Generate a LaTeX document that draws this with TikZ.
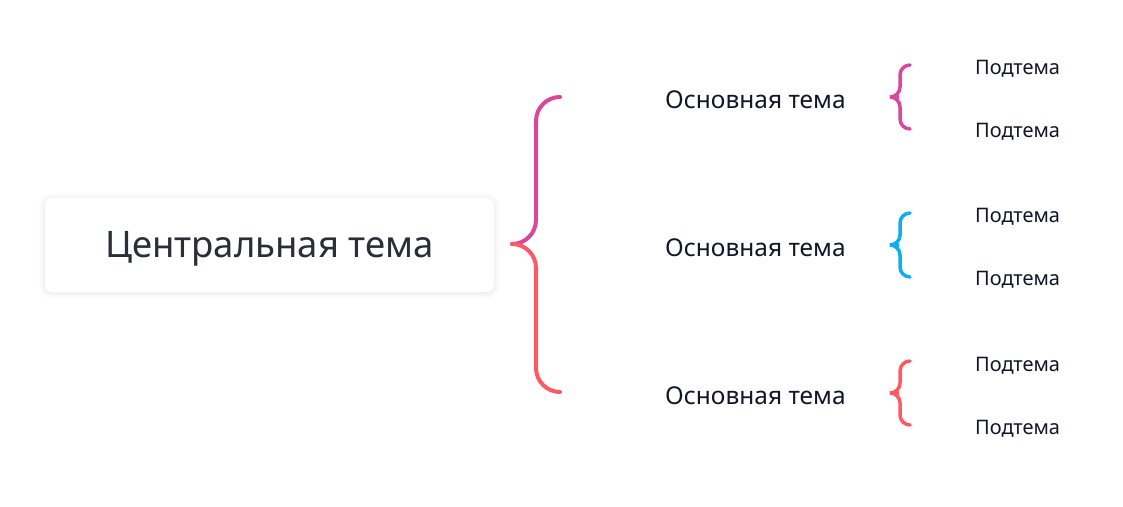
\documentclass[tikz,border=0pt]{standalone}
\usepackage{fontspec}
\setmainfont{Noto Sans}
\usetikzlibrary{shadows.blur}
\definecolor{bracepink}{HTML}{D9479D}
\definecolor{bracered}{HTML}{FF5A64}
\definecolor{braceblue}{HTML}{0BAEF0}
\definecolor{textdark}{HTML}{2A2E38}
\definecolor{textmain}{HTML}{14142A}

\begin{document}
\begin{tikzpicture}[x=1pt,y=-1pt,line cap=round,
  central/.style={fill=white,rounded corners=7pt,minimum width=449pt,minimum height=94pt,
    text height=34pt,text depth=9pt,
    blur shadow={shadow xshift=0pt,shadow yshift=-1pt,shadow opacity=12,shadow blur radius=6pt},
    font=\fontsize{36.5}{40}\selectfont,text=textdark},
  maintopic/.style={anchor=west,inner sep=0pt,font=\fontsize{24.5}{28}\selectfont,text=textmain},
  subtopic/.style={anchor=west,inner sep=0pt,font=\fontsize{20}{24}\selectfont,text=textmain},
  bigbrace/.style={line width=4pt,rounded corners=24pt},
  smallbrace/.style={line width=3.5pt,rounded corners=10pt}]
\useasboundingbox (0,0) rectangle (1123,506);
\node[central] (c) at (269.5,245) {Центральная тема};
\node[maintopic] (m1) at (665,100) {Основная тема};
\node[maintopic] (m2) at (665,248) {Основная тема};
\node[maintopic] (m3) at (665,396) {Основная тема};
\node[subtopic] (s11) at (975,69) {Подтема};
\node[subtopic] (s12) at (975,132) {Подтема};
\node[subtopic] (s21) at (975,217) {Подтема};
\node[subtopic] (s22) at (975,280) {Подтема};
\node[subtopic] (s31) at (975,366) {Подтема};
\node[subtopic] (s32) at (975,429) {Подтема};
% big brace
\coordinate (tip) at (512,244);
\coordinate (b1) at (560,97);
\coordinate (b3) at (560,392);
\draw[bigbrace,bracepink] (b1) -- ++(-24,0) |- (tip);
\draw[bigbrace,bracered] (tip) -- ++(24,0) |- (b3);
% small braces
\coordinate (t1) at (889,97);
\coordinate (t2) at (889,245);
\coordinate (t3) at (889,393);
\draw[smallbrace,bracepink] (910,65) -- ++(-10,0) |- (t1) -- ++(11,0) |- (910,129);
\draw[smallbrace,braceblue] (910,213) -- ++(-10,0) |- (t2) -- ++(11,0) |- (910,277);
\draw[smallbrace,bracered] (910,361) -- ++(-10,0) |- (t3) -- ++(11,0) |- (910,425);
\end{tikzpicture}
\end{document}
